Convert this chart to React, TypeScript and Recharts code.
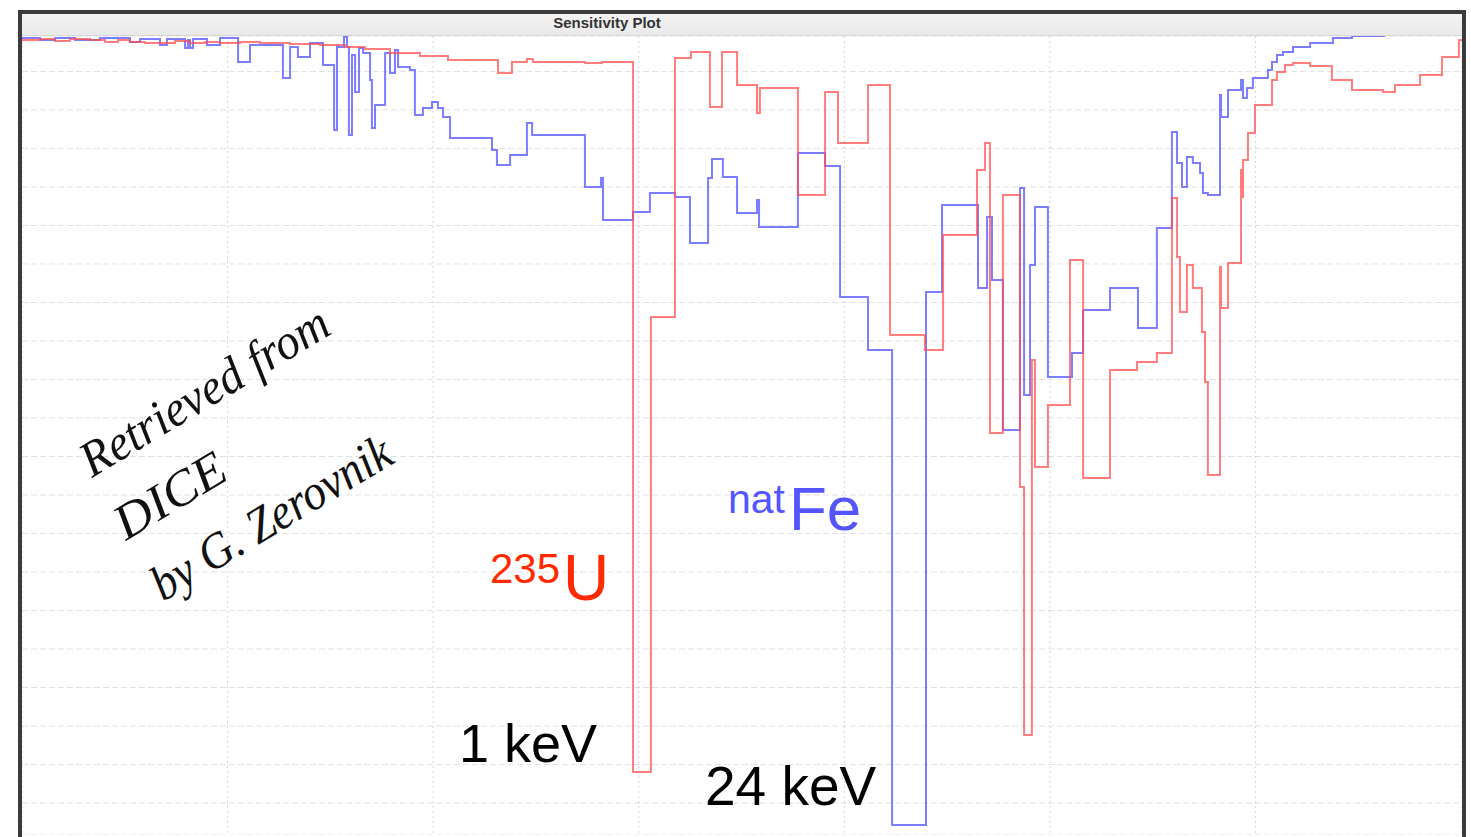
import { LineChart, Line, XAxis, YAxis, CartesianGrid } from "recharts"

// x: lg(E / eV), y: sensitivity per lethargy (arbitrary units)
type Pt = { e: number; s: number }

const DECADES = [1, 2, 3, 4, 5, 6]
const S_GRID = [-1, -2, -3, -4, -5, -6, -7, -8, -9, -10, -11, -12, -13, -14, -15, -16, -17, -18, -19, -20]

const U235: Pt[] = [
  { e: 0, s: -0.182 }, { e: 0.088, s: -0.156 }, { e: 0.161, s: -0.208 }, { e: 0.233, s: -0.156 },
  { e: 0.331, s: -0.182 }, { e: 0.404, s: -0.234 }, { e: 0.467, s: -0.182 }, { e: 0.525, s: -0.234 },
  { e: 0.598, s: -0.26 }, { e: 0.744, s: -0.208 }, { e: 0.817, s: -0.26 }, { e: 0.89, s: -0.234 },
  { e: 0.963, s: -0.26 }, { e: 1.06, s: -0.234 }, { e: 1.158, s: -0.26 }, { e: 1.304, s: -0.286 },
  { e: 1.449, s: -0.312 }, { e: 1.571, s: -0.364 }, { e: 1.668, s: -0.416 }, { e: 1.79, s: -0.519 },
  { e: 1.936, s: -0.597 }, { e: 2.072, s: -0.701 }, { e: 2.315, s: -1.039 }, { e: 2.383, s: -0.753 },
  { e: 2.456, s: -0.675 }, { e: 2.485, s: -0.753 }, { e: 2.738, s: -0.779 }, { e: 2.821, s: -0.753 },
  { e: 2.972, s: -19.195 }, { e: 3.059, s: -7.377 }, { e: 3.176, s: -0.649 }, { e: 3.254, s: -0.494 },
  { e: 3.346, s: -1.922 }, { e: 3.405, s: -0.494 }, { e: 3.478, s: -1.351 }, { e: 3.575, s: -2.078 },
  { e: 3.589, s: -1.429 }, { e: 3.774, s: -4.208 }, { e: 3.906, s: -1.532 }, { e: 3.969, s: -2.857 },
  { e: 4.115, s: -1.351 }, { e: 4.222, s: -7.844 }, { e: 4.392, s: -8.234 }, { e: 4.48, s: -5.247 },
  { e: 4.645, s: -3.558 }, { e: 4.684, s: -2.857 }, { e: 4.708, s: -10.39 }, { e: 4.771, s: -4.208 },
  { e: 4.854, s: -11.792 }, { e: 4.874, s: -18.234 }, { e: 4.912, s: -8.494 }, { e: 4.927, s: -11.273 },
  { e: 4.99, s: -9.662 }, { e: 5.097, s: -5.896 }, { e: 5.161, s: -11.558 }, { e: 5.292, s: -8.753 },
  { e: 5.423, s: -8.545 }, { e: 5.52, s: -8.312 }, { e: 5.593, s: -4.286 }, { e: 5.618, s: -5.818 },
  { e: 5.632, s: -7.247 }, { e: 5.666, s: -6.026 }, { e: 5.695, s: -6.623 }, { e: 5.739, s: -7.766 },
  { e: 5.754, s: -9.065 }, { e: 5.768, s: -11.481 }, { e: 5.827, s: -6.078 }, { e: 5.832, s: -7.143 },
  { e: 5.866, s: -5.974 }, { e: 5.929, s: -3.558 }, { e: 5.934, s: -4.26 }, { e: 5.939, s: -3.299 },
  { e: 5.963, s: -2.597 }, { e: 5.997, s: -1.87 }, { e: 6.08, s: -1.221 }, { e: 6.104, s: -1.013 },
  { e: 6.143, s: -0.831 }, { e: 6.182, s: -0.779 }, { e: 6.265, s: -0.857 }, { e: 6.371, s: -1.221 },
  { e: 6.469, s: -1.481 }, { e: 6.62, s: -1.532 }, { e: 6.678, s: -1.351 }, { e: 6.8, s: -1.091 },
  { e: 6.907, s: -0.623 }, { e: 6.989, s: -0.182 }, { e: 7.004, s: -0.182 },
]

const FE_NAT: Pt[] = [
  { e: 0, s: -0.13 }, { e: 0.088, s: -0.182 }, { e: 0.161, s: -0.13 }, { e: 0.258, s: -0.182 },
  { e: 0.379, s: -0.13 }, { e: 0.525, s: -0.234 }, { e: 0.574, s: -0.156 }, { e: 0.671, s: -0.312 },
  { e: 0.705, s: -0.156 }, { e: 0.793, s: -0.39 }, { e: 0.807, s: -0.182 }, { e: 0.817, s: -0.39 },
  { e: 0.832, s: -0.156 }, { e: 0.9, s: -0.312 }, { e: 0.963, s: -0.13 }, { e: 1.051, s: -0.753 },
  { e: 1.109, s: -0.312 }, { e: 1.269, s: -1.169 }, { e: 1.304, s: -0.364 }, { e: 1.342, s: -0.623 },
  { e: 1.401, s: -0.26 }, { e: 1.464, s: -0.831 }, { e: 1.518, s: -2.519 }, { e: 1.532, s: -0.364 },
  { e: 1.566, s: -0.104 }, { e: 1.581, s: -0.364 }, { e: 1.59, s: -2.649 }, { e: 1.605, s: -0.571 },
  { e: 1.62, s: -1.532 }, { e: 1.639, s: -0.39 }, { e: 1.659, s: -0.519 }, { e: 1.693, s: -1.221 },
  { e: 1.702, s: -2.468 }, { e: 1.717, s: -1.87 }, { e: 1.766, s: -0.519 }, { e: 1.79, s: -1.039 },
  { e: 1.814, s: -0.442 }, { e: 1.829, s: -0.883 }, { e: 1.887, s: -0.961 }, { e: 1.911, s: -2.13 },
  { e: 1.95, s: -1.948 }, { e: 1.994, s: -1.792 }, { e: 2.023, s: -1.948 }, { e: 2.048, s: -2.182 },
  { e: 2.082, s: -2.727 }, { e: 2.286, s: -3.039 }, { e: 2.31, s: -3.429 }, { e: 2.374, s: -3.169 },
  { e: 2.456, s: -2.338 }, { e: 2.481, s: -2.649 }, { e: 2.738, s: -4.0 }, { e: 2.816, s: -3.766 },
  { e: 2.826, s: -4.857 }, { e: 2.972, s: -4.649 }, { e: 3.054, s: -4.156 }, { e: 3.176, s: -4.26 },
  { e: 3.249, s: -5.455 }, { e: 3.337, s: -3.766 }, { e: 3.356, s: -3.273 }, { e: 3.409, s: -3.74 },
  { e: 3.478, s: -4.675 }, { e: 3.575, s: -4.338 }, { e: 3.585, s: -5.039 }, { e: 3.774, s: -3.117 },
  { e: 3.906, s: -3.455 }, { e: 3.979, s: -6.857 }, { e: 4.115, s: -8.234 }, { e: 4.232, s: -20.571 },
  { e: 4.397, s: -6.727 }, { e: 4.475, s: -4.468 }, { e: 4.65, s: -6.623 }, { e: 4.694, s: -4.779 },
  { e: 4.718, s: -6.416 }, { e: 4.771, s: -10.312 }, { e: 4.854, s: -4.026 }, { e: 4.874, s: -9.403 },
  { e: 4.903, s: -6.026 }, { e: 4.927, s: -4.519 }, { e: 4.99, s: -8.935 }, { e: 5.107, s: -8.312 },
  { e: 5.161, s: -7.195 }, { e: 5.292, s: -6.623 }, { e: 5.428, s: -7.662 }, { e: 5.52, s: -5.065 },
  { e: 5.593, s: -2.571 }, { e: 5.618, s: -3.377 }, { e: 5.642, s: -4.0 }, { e: 5.666, s: -3.221 },
  { e: 5.695, s: -3.377 }, { e: 5.73, s: -3.636 }, { e: 5.744, s: -4.156 }, { e: 5.768, s: -4.208 },
  { e: 5.827, s: -1.61 }, { e: 5.832, s: -2.182 }, { e: 5.866, s: -1.481 }, { e: 5.929, s: -1.221 },
  { e: 5.939, s: -1.688 }, { e: 5.958, s: -1.429 }, { e: 5.987, s: -1.169 }, { e: 6.06, s: -0.961 },
  { e: 6.08, s: -0.753 }, { e: 6.104, s: -0.571 }, { e: 6.133, s: -0.494 }, { e: 6.182, s: -0.364 },
  { e: 6.265, s: -0.26 }, { e: 6.376, s: -0.13 }, { e: 6.469, s: -0.078 }, { e: 6.629, s: -0.078 },
]

const sans = "'Liberation Sans', Arial, sans-serif"
const script = "'Liberation Serif', serif"

export default function App() {
  return (
    <div style={{ position: "absolute", left: 0, top: 0, width: 1471, height: 837, background: "#fff", overflow: "hidden" }}>
      <div
        style={{
          position: "absolute", left: 18, top: 10, width: 1440, height: 825,
          border: "4px solid #3b3b3b", background: "#fff",
        }}
      >
        <div
          style={{
            height: 22, background: "linear-gradient(#f3f3f3, #e9e9e9)",
            borderBottom: "1px solid #d6d6d6", boxSizing: "border-box", position: "relative",
          }}
        >
          <div
            style={{
              position: "absolute", left: 500, top: 1, width: 170, textAlign: "center",
              fontFamily: sans, fontWeight: "bold", fontSize: 15, color: "#333", lineHeight: "16px",
            }}
          >
            Sensitivity Plot
          </div>
        </div>
        <LineChart width={1440} height={799} margin={{ top: 0, right: 0, bottom: 0, left: 0 }}>
          <CartesianGrid vertical={false} stroke="#e2e2e2" strokeDasharray="6 3" />
          <CartesianGrid horizontal={false} stroke="#d4d4d4" strokeDasharray="2 3" />
          <XAxis type="number" dataKey="e" domain={[0, 7.004]} ticks={DECADES} hide allowDataOverflow />
          <YAxis type="number" dataKey="s" domain={[-20.83, -0.08]} ticks={S_GRID} hide allowDataOverflow />
          <Line
            data={FE_NAT} dataKey="s" type="stepAfter" stroke="#4b4bff" strokeOpacity={0.72}
            strokeWidth={2} dot={false} isAnimationActive={false}
          />
          <Line
            data={U235} dataKey="s" type="stepAfter" stroke="#ff4b4b" strokeOpacity={0.72}
            strokeWidth={2} dot={false} isAnimationActive={false}
          />
        </LineChart>
      </div>
      <svg width={1471} height={837} style={{ position: "absolute", left: 0, top: 0, pointerEvents: "none" }}>
        <g fontFamily={script} fontStyle="italic" fontSize={50} fill="#111">
          <text x={92} y={478} transform="rotate(-31 92 478)" textLength={282} lengthAdjust="spacingAndGlyphs">
            Retrieved from
          </text>
          <text x={126} y={541} transform="rotate(-31 126 541)" textLength={122} lengthAdjust="spacingAndGlyphs">
            DICE
          </text>
          <text x={163} y={602} transform="rotate(-31 163 602)" textLength={272} lengthAdjust="spacingAndGlyphs">
            by G. Zerovnik
          </text>
        </g>
        <g fontFamily={sans}>
          <text x={490} y={583} fontSize={42} fill="#ff2a00">235</text>
          <text x={563} y={600} fontSize={64} fill="#ff2a00">U</text>
          <text x={728} y={513} fontSize={41} fill="#5555ff">nat</text>
          <text x={789} y={530} fontSize={62} fill="#5555ff">Fe</text>
          <text x={459} y={762} fontSize={54} fill="#000">1 keV</text>
          <text x={705} y={805} fontSize={55} fill="#000">24 keV</text>
        </g>
      </svg>
    </div>
  )
}
